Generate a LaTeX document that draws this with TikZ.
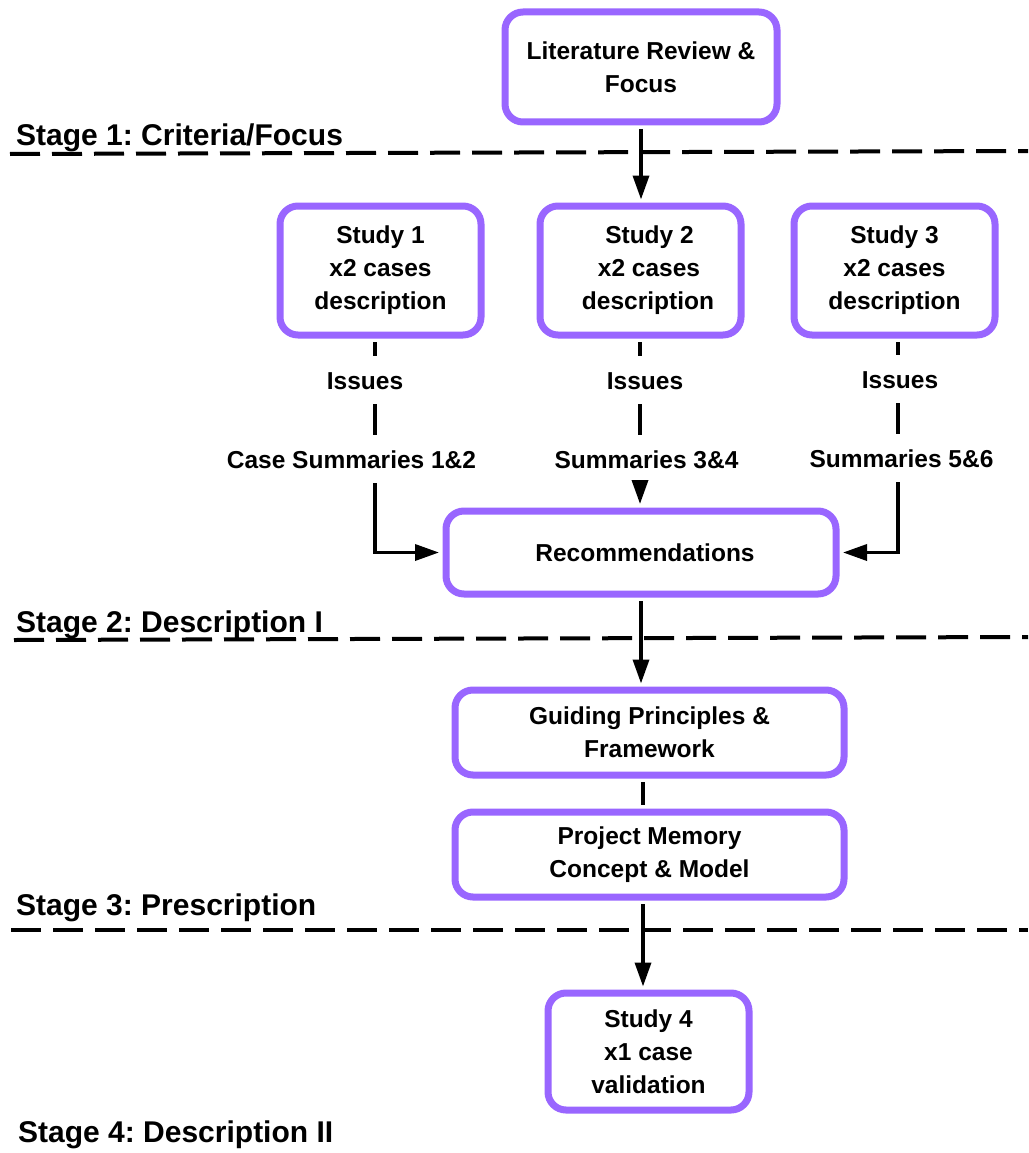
\documentclass[tikz,border=0pt]{standalone}
\usepackage{fontspec}
\setmainfont{Liberation Sans}
\usetikzlibrary{arrows.meta}
\definecolor{boxpurple}{RGB}{153,102,255}
\frenchspacing
\begin{document}
\begin{tikzpicture}[x=1pt,y=-1pt,
  box/.style={draw=boxpurple, line width=7pt, rounded corners=18pt, fill=white,
    align=center, inner sep=0pt, font=\bfseries\fontsize{24.5}{33}\selectfont},
  lbl/.style={inner xsep=2pt, inner ysep=15pt, text height=17.5pt, text depth=0pt,
    anchor=base, font=\bfseries\fontsize{24.5}{33}\selectfont},
  stage/.style={anchor=base west, inner sep=0pt, font=\bfseries\fontsize{30}{36}\selectfont},
  conn/.style={line width=3.5pt, draw=black},
  arr/.style={conn, -{Triangle[length=24pt,width=16pt]}},
  divider/.style={line width=4pt, dash pattern=on 30pt off 12pt}
]
\fill[white] (0,0) rectangle (1028,1153);
\useasboundingbox (0,0) rectangle (1028,1153);

% stage separators
\draw[divider] (10,154) -- (1028,151);
\draw[divider] (14,640) -- (1028,637);
\draw[divider] (11,930) -- (1028,930);

% stage titles
\node[stage] (st1) at (16,145) {Stage 1: Criteria/Focus};
\node[stage] (st2) at (16,632) {Stage 2: Description I};
\node[stage] (st3) at (16,915) {Stage 3: Prescription};
\node[stage] (st4) at (18,1142) {Stage 4: Description II};

% boxes
\node[box, minimum width=272pt, minimum height=110pt] (lit) at (641,67)
  {Literature Review \&\\Focus};
\node[box, minimum width=201pt, minimum height=129pt] (s1) at (380.5,270.5)
  {Study 1\\x2 cases\\description};
\node[box, minimum width=201pt, minimum height=129pt] (s2) at (640.5,270.5)
  {\hspace*{18pt}Study 2\\\hspace*{17pt}x2 cases\\\hspace*{15pt}description};
\node[box, minimum width=201pt, minimum height=129pt] (s3) at (894.5,270.5)
  {Study 3\\x2 cases\\description};
\node[box, minimum width=390pt, minimum height=83pt] (rec) at (641,552.5)
  {\hspace*{8pt}Recommendations};
\node[box, minimum width=389pt, minimum height=85pt] (gp) at (649.5,732.5)
  {Guiding Principles \&\\Framework};
\node[box, minimum width=389pt, minimum height=85pt] (pm) at (649.5,854.5)
  {Project Memory\\Concept \& Model};
\node[box, minimum width=201pt, minimum height=117pt] (s4) at (648.5,1051.5)
  {Study 4\\x1 case\\validation};

% outcome labels below each study
\node[lbl] (i1) at (365,389) {Issues};
\node[lbl] (c1) at (351.5,468) {Case Summaries 1\&2};
\node[lbl] (i2) at (645,389) {Issues};
\node[lbl] (c2) at (646.5,468) {Summaries 3\&4};
\node[lbl] (i3) at (900,388) {Issues};
\node[lbl] (c3) at (901.5,467) {Summaries 5\&6};

% connector columns
\coordinate (col1) at (375,0);
\coordinate (col2) at (640,0);
\coordinate (col3) at (898,0);
\coordinate (colm) at (643,0);

% connectors
\draw[arr, shorten <=3.5pt, shorten >=3pt] (lit.south) -- (lit.south |- s2.north);

\draw[conn, shorten <=3.5pt] (s1.south -| col1) -- (i1.north -| col1);
\draw[conn] (i1.south -| col1) -- (c1.north -| col1);
\draw[arr, shorten >=3.5pt] (c1.south -| col1) |- (rec.west);

\draw[conn, shorten <=3.5pt] (s2.south -| col2) -- (i2.north -| col2);
\draw[conn] (i2.south -| col2) -- (c2.north -| col2);
\draw[arr, shorten >=3.5pt] (c2.south -| col2) -- (rec.north -| col2);

\draw[conn, shorten <=3.5pt] (s3.south -| col3) -- (i3.north -| col3);
\draw[conn] (i3.south -| col3) -- (c3.north -| col3);
\draw[arr, shorten >=3.5pt] (c3.south -| col3) |- (rec.east);

\draw[arr, shorten <=3.5pt, shorten >=3pt] (rec.south) -- (rec.south |- gp.north);
\draw[conn, shorten <=3.5pt, shorten >=3.5pt] (gp.south -| colm) -- (pm.north -| colm);
\draw[arr, shorten <=3.5pt, shorten >=3pt] (pm.south -| colm) -- (s4.north -| colm);
\end{tikzpicture}
\end{document}
